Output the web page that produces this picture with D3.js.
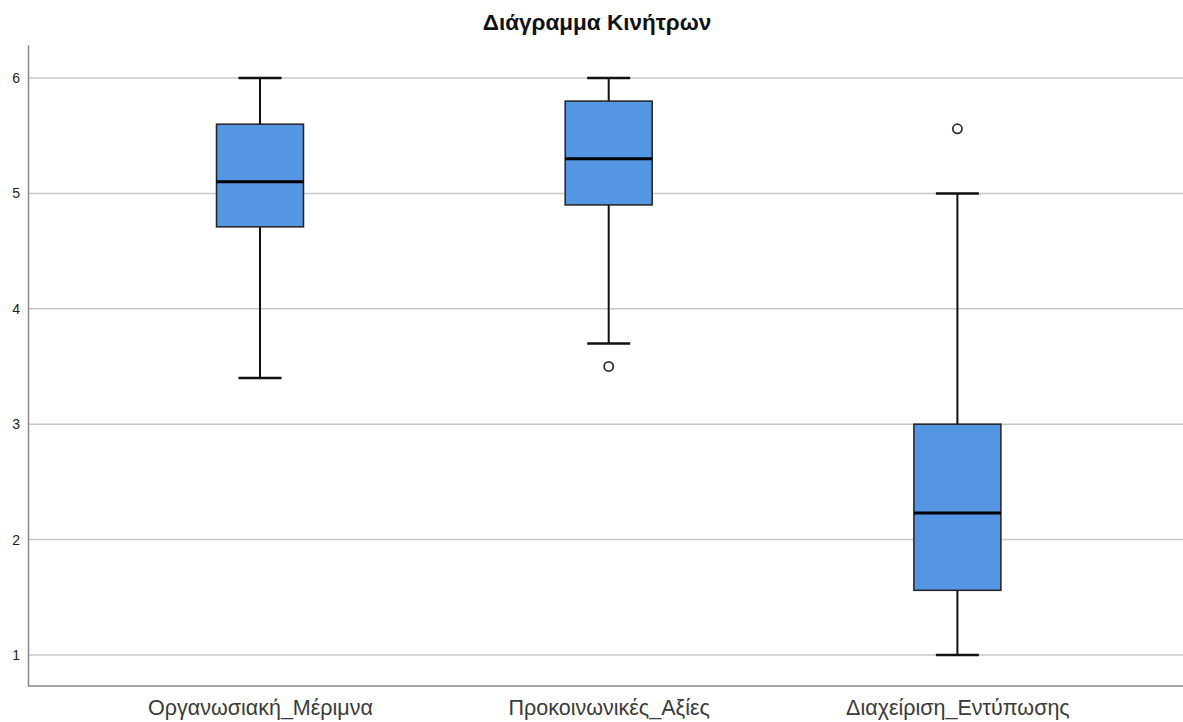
<!DOCTYPE html>
<html><head><meta charset="utf-8">
<script src="https://cdn.jsdelivr.net/npm/d3@7"></script>
<style>body{margin:0;background:#fff}svg{display:block}</style>
</head><body>
<svg id="c" width="1183" height="722"></svg>
<script>
const categories = ["Οργανωσιακή_Μέριμνα", "Προκοινωνικές_Αξίες", "Διαχείριση_Εντύπωσης"];
const whiskerLow = [3.40, 3.70, 1.00];
const q1 = [4.71, 4.90, 1.56];
const median = [5.10, 5.30, 2.23];
const q3 = [5.60, 5.80, 3.00];
const whiskerHigh = [6.00, 6.00, 5.00];
const outliers = [[], [3.50], [5.56]];
const yTicks = [1, 2, 3, 4, 5, 6];
const title = "Διάγραμμα Κινήτρων";

(function(){
const svg = d3.select("#c");
const mL = 28, mR = 1183, mT = 45, mB = 686;
const x = d3.scalePoint().domain(categories).range([260, 957.4]).padding(0);
const y = d3.scaleLinear().domain([0.731, 6.286]).range([mB, mT]);

svg.append("g").selectAll("line").data(yTicks).join("line")
  .attr("x1", mL).attr("x2", mR)
  .attr("y1", d => y(d)).attr("y2", d => y(d))
  .attr("stroke", "#c8c8c8").attr("stroke-width", 1.5);

const yAxis = svg.append("g").attr("transform", `translate(${mL},0)`)
  .call(d3.axisLeft(y).tickValues(yTicks).tickSize(0).tickPadding(8).tickFormat(d3.format("d")));
yAxis.select(".domain").attr("stroke", "#888").attr("stroke-width", 1.5);
yAxis.selectAll("text").attr("font-family", "Liberation Sans, Arial, sans-serif").attr("font-size", 14).attr("fill", "#222");

const xAxis = svg.append("g").attr("transform", `translate(0,${mB})`)
  .call(d3.axisBottom(x).tickSize(0));
xAxis.select(".domain").attr("d", `M${mL},0H${mR}`).attr("stroke", "#888").attr("stroke-width", 1.5);
xAxis.selectAll("text").attr("y", 29).attr("dy", 0)
  .attr("font-family", "Liberation Sans, Arial, sans-serif")
  .attr("font-size", 21.5).attr("fill", "#3a3a3a");

const boxW = 87, capW = 43;
const g = svg.append("g").selectAll("g").data(categories).join("g");
g.append("line").attr("x1", d => x(d)).attr("x2", d => x(d))
  .attr("y1", (d,i) => y(whiskerHigh[i])).attr("y2", (d,i) => y(q3[i]))
  .attr("stroke", "#111").attr("stroke-width", 2);
g.append("line").attr("x1", d => x(d)).attr("x2", d => x(d))
  .attr("y1", (d,i) => y(q1[i])).attr("y2", (d,i) => y(whiskerLow[i]))
  .attr("stroke", "#111").attr("stroke-width", 2);
g.append("line").attr("x1", d => x(d) - capW/2).attr("x2", d => x(d) + capW/2)
  .attr("y1", (d,i) => y(whiskerHigh[i])).attr("y2", (d,i) => y(whiskerHigh[i]))
  .attr("stroke", "#111").attr("stroke-width", 2.5);
g.append("line").attr("x1", d => x(d) - capW/2).attr("x2", d => x(d) + capW/2)
  .attr("y1", (d,i) => y(whiskerLow[i])).attr("y2", (d,i) => y(whiskerLow[i]))
  .attr("stroke", "#111").attr("stroke-width", 2.5);
g.append("rect").attr("x", d => x(d) - boxW/2).attr("width", boxW)
  .attr("y", (d,i) => y(q3[i])).attr("height", (d,i) => y(q1[i]) - y(q3[i]))
  .attr("fill", "#5596e2").attr("stroke", "#222").attr("stroke-width", 1.5);
g.append("line").attr("x1", d => x(d) - boxW/2).attr("x2", d => x(d) + boxW/2)
  .attr("y1", (d,i) => y(median[i])).attr("y2", (d,i) => y(median[i]))
  .attr("stroke", "#000").attr("stroke-width", 3);
g.each(function(d, i) {
  d3.select(this).selectAll("circle").data(outliers[i]).join("circle")
    .attr("cx", x(d)).attr("cy", v => y(v)).attr("r", 4.6)
    .attr("fill", "#fff").attr("stroke", "#333").attr("stroke-width", 1.8);
});

svg.append("text").attr("x", 597).attr("y", 30).attr("text-anchor", "middle")
  .attr("font-family", "Liberation Sans, Arial, sans-serif").attr("font-weight", "bold")
  .attr("font-size", 22.5).attr("fill", "#111").text(title);
})();
</script>
</body></html>
